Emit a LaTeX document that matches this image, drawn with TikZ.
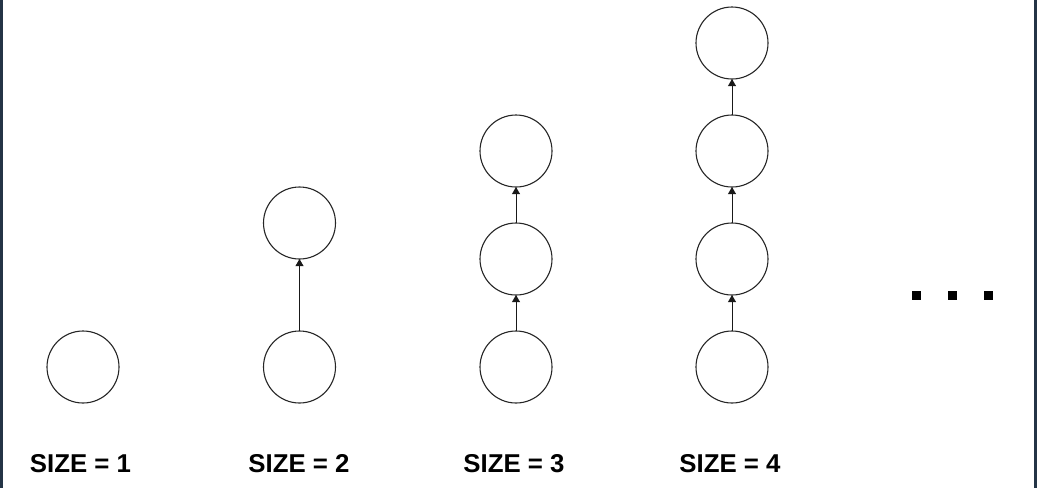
\documentclass[tikz,border=0pt]{standalone}
\usepackage{fontspec}
\setmainfont{Liberation Sans}
\usepackage{tkz-graph}
\usetikzlibrary{arrows}
\definecolor{frame}{RGB}{36,52,70}

\begin{document}
\begin{tikzpicture}[x=1pt,y=-1pt,
	VertexStyle/.style = {circle, draw=black!85, line width=1.1pt, minimum size=72pt, inner sep=0pt},
	EdgeStyle/.style = {-triangle 60, line width=0.9pt, black!90},
	SizeText/.style = {font=\fontsize{25.8}{30}\selectfont\bfseries}]
	\useasboundingbox (0,0) rectangle (1037,488);
	\fill[frame] (0,0) rectangle (2.5,488);
	\fill[frame] (1034,0) rectangle (1037,488);
		\SetVertexNoLabel
	% size 1
		\Vertex[x=83 ,y=367]{Aa}
	% size 2
		\Vertex[x=299.5 ,y=367]{Ba}
		\Vertex[x=299.5 ,y=223]{Bb}
		\Edge(Ba)(Bb)
	% size 3
		\Vertex[x=516 ,y=367]{Ca}
		\Vertex[x=516 ,y=259]{Cb}
		\Vertex[x=516 ,y=151]{Cc}
		\Edge(Ca)(Cb)
		\Edge(Cb)(Cc)
	% size 4
		\Vertex[x=732 ,y=367]{Da}
		\Vertex[x=732 ,y=259]{Db}
		\Vertex[x=732 ,y=151]{Dc}
		\Vertex[x=732 ,y=43]{Dd}
		\Edge(Da)(Db)
		\Edge(Db)(Dc)
		\Edge(Dc)(Dd)
	% dots
		\fill (912,291) rectangle (921,300);
		\fill (948,291) rectangle (957,300);
		\fill (984,291) rectangle (993,300);
	% labels
		\node[SizeText] (La) at (80.5,464) {SIZE = 1};
		\node[SizeText] (Lb) at (299,464) {SIZE = 2};
		\node[SizeText] (Lc) at (514,464) {SIZE = 3};
		\node[SizeText] (Ld) at (730,464) {SIZE = 4};
	\end{tikzpicture}
\end{document}
